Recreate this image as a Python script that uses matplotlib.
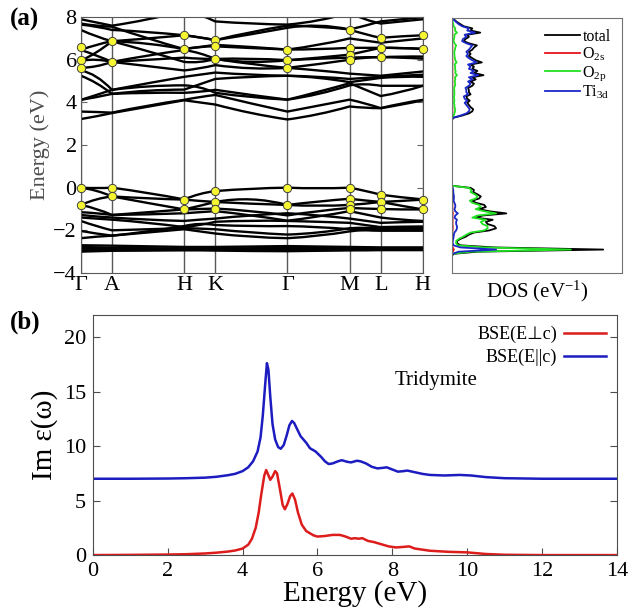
import numpy as np
import matplotlib
matplotlib.use("Agg")
import matplotlib.pyplot as plt
from matplotlib.path import Path
from matplotlib.patches import PathPatch

plt.rcParams["font.family"] = ["Liberation Serif", "DejaVu Sans"]
plt.rcParams["mathtext.fontset"] = "custom"
plt.rcParams["mathtext.rm"] = "Liberation Serif"
plt.rcParams["mathtext.it"] = "Liberation Serif:italic"

# ---------------------------------------------------------------
# (a) band structure: k-path, energies at k-points and segment midpoints
# ---------------------------------------------------------------
K_POS = [0, 31, 103, 134, 206, 268, 299, 341]
K_LABELS = ["Γ", "A", "H", "K", "Γ", "M", "L", "H"]

# order: Γ, mid, A, mid, H, mid, K, mid, Γ, mid, M, mid, L, mid, H
VALENCE_BANDS = [
    [0.00, -0.02, 0.00, -0.25, -0.55, -0.30, -0.16, -0.05, 0.00, -0.03, 0.00, -0.15, -0.33, -0.45, -0.55],
    [0.00, -0.15, -0.41, -0.50, -0.56, -0.62, -0.67, -0.75, -0.81, -0.65, -0.52, -0.60, -0.67, -0.62, -0.56],
    [-0.81, -0.55, -0.41, -0.72, -1.02, -0.85, -0.67, -0.55, -0.81, -0.85, -0.81, -0.75, -0.67, -0.85, -1.02],
    [-0.81, -1.00, -1.28, -1.15, -1.02, -1.00, -0.98, -1.10, -1.30, -1.10, -0.95, -0.98, -1.00, -1.02, -1.02],
    [-1.15, -1.20, -1.28, -1.25, -1.20, -1.15, -1.10, -1.30, -1.55, -1.35, -1.10, -1.25, -1.40, -1.50, -1.56],
    [-1.28, -1.35, -1.40, -1.50, -1.56, -1.50, -1.45, -1.30, -1.20, -1.30, -1.45, -1.55, -1.65, -1.62, -1.60],
    [-1.40, -1.45, -1.50, -1.65, -1.85, -1.75, -1.60, -1.55, -1.56, -1.60, -1.65, -1.75, -1.85, -1.83, -1.82],
    [-1.56, -1.80, -2.00, -1.95, -1.90, -1.92, -1.95, -2.10, -2.20, -2.10, -1.90, -1.88, -1.90, -1.90, -1.90],
    [-2.03, -2.15, -2.25, -2.10, -1.95, -2.05, -2.15, -2.30, -2.37, -2.25, -2.05, -1.98, -1.95, -1.95, -1.95],
    [-2.37, -2.30, -2.25, -2.05, -1.80, -1.70, -1.75, -1.80, -1.80, -1.85, -1.95, -2.00, -2.02, -2.02, -2.02],
    [-2.70, -2.71, -2.72, -2.75, -2.78, -2.78, -2.78, -2.76, -2.74, -2.76, -2.78, -2.79, -2.80, -2.80, -2.80],
    [-2.78, -2.80, -2.82, -2.84, -2.85, -2.85, -2.85, -2.84, -2.82, -2.83, -2.85, -2.86, -2.86, -2.86, -2.86],
    [-2.86, -2.87, -2.88, -2.88, -2.88, -2.89, -2.90, -2.90, -2.90, -2.89, -2.88, -2.88, -2.88, -2.88, -2.88],
    [-2.94, -2.93, -2.93, -2.92, -2.91, -2.91, -2.92, -2.93, -2.95, -2.93, -2.92, -2.91, -2.91, -2.91, -2.91],
    [-3.00, -2.98, -2.96, -2.95, -2.94, -2.94, -2.95, -2.97, -2.98, -2.96, -2.94, -2.94, -2.93, -2.93, -2.93],
]
CONDUCTION_BANDS = [
    [3.22, 3.35, 3.50, 3.80, 4.10, 4.00, 3.90, 3.50, 3.20, 3.45, 3.81, 3.75, 3.73, 3.90, 4.10],
    [3.57, 3.55, 3.52, 3.85, 4.12, 4.25, 4.35, 3.95, 3.57, 3.85, 4.13, 3.95, 3.73, 3.95, 4.12],
    [4.12, 4.25, 4.40, 4.45, 4.45, 4.50, 4.59, 4.35, 4.13, 4.50, 4.90, 4.60, 4.30, 4.50, 4.78],
    [4.12, 4.35, 4.59, 4.75, 4.80, 4.70, 4.45, 4.25, 4.13, 4.40, 4.80, 4.85, 4.78, 4.78, 4.78],
    [5.25, 4.90, 4.40, 4.55, 4.60, 4.85, 5.10, 5.20, 5.25, 5.15, 4.95, 5.05, 5.15, 5.20, 5.20],
    [5.50, 5.20, 4.59, 4.90, 5.20, 5.30, 5.40, 5.30, 5.25, 5.20, 5.10, 5.15, 5.20, 5.25, 5.30],
    [5.62, 5.70, 5.90, 5.70, 5.50, 5.60, 5.75, 5.60, 5.62, 5.50, 5.35, 5.30, 5.25, 5.35, 5.45],
    [5.96, 6.00, 5.90, 6.00, 6.10, 6.05, 6.04, 6.05, 5.98, 6.05, 6.10, 6.12, 6.12, 6.15, 6.15],
    [5.96, 6.35, 6.87, 6.75, 6.50, 6.60, 6.63, 6.55, 6.48, 6.50, 6.56, 6.56, 6.56, 6.55, 6.51],
    [6.46, 6.20, 5.90, 6.20, 6.46, 6.30, 6.04, 5.90, 5.98, 6.10, 6.24, 6.40, 6.56, 6.55, 6.51],
    [6.46, 6.70, 6.87, 7.00, 7.15, 7.05, 6.92, 7.30, 7.60, 7.55, 7.42, 7.20, 7.03, 7.10, 7.15],
    [7.40, 7.10, 6.87, 6.40, 5.90, 5.90, 6.04, 5.80, 5.62, 5.80, 6.00, 6.10, 6.12, 6.10, 6.05],
    [7.65, 7.55, 7.40, 7.30, 7.15, 7.05, 6.92, 7.20, 7.50, 7.60, 7.42, 7.60, 7.80, 7.90, 8.00],
    [7.90, 7.75, 7.60, 7.90, 8.30, 8.10, 7.80, 7.70, 7.65, 7.85, 8.20, 7.90, 7.70, 7.80, 7.90],
    [7.70, 7.60, 7.55, 7.00, 6.50, 6.60, 6.70, 6.60, 6.48, 6.70, 7.00, 6.90, 6.80, 6.90, 7.00],
]

# yellow markers: energies at each k-point
MARK_E = [
    [6.6, 6.0, 5.62, 0.0, -0.81],
    [6.87, 5.9, 0.0, -0.41],
    [7.15, 6.5, -0.56, -1.02],
    [6.92, 6.63, 6.04, -0.16, -0.67, -0.98],
    [6.48, 5.98, 5.62, 0.0, -0.81],
    [7.42, 6.56, 6.24, 6.0, 0.0, -0.52, -0.81, -1.02],
    [7.03, 6.56, 6.12, -0.33, -0.67, -1.0],
    [7.15, 6.51, -0.56, -1.02],
]

# ---------------------------------------------------------------
# (a) DOS
# ---------------------------------------------------------------
E_VAL = np.round(np.arange(-3.2, 0.21, 0.1), 1)
DOS_TOT_VAL = [0.0, 0.1, 1.5, 8.9, 2.5, 0.5, 0.3, 0.3, 0.5, 0.8, 1.0, 1.3, 2.2, 2.6, 2.5, 2.1, 2.0, 2.4,
               1.4, 1.8, 3.2, 2.2, 1.6, 2.0, 1.9, 1.4, 1.2, 1.6, 1.7, 1.5, 1.25, 1.3, 1.1, 0.0, 0.0]
DOS_O2S_VAL = [0.0, 0.01, 0.05, 0.12, 0.05, 0.02, 0.01, 0.01, 0.01, 0.02, 0.02, 0.03, 0.04, 0.05, 0.05,
               0.04, 0.04, 0.05, 0.03, 0.04, 0.06, 0.04, 0.03, 0.03, 0.03, 0.03, 0.02, 0.03, 0.03, 0.02,
               0.02, 0.02, 0.01, 0.0, 0.0]
DOS_O2P_VAL = [0.0, 0.05, 1.1, 7.0, 1.9, 0.35, 0.25, 0.25, 0.4, 0.65, 0.85, 1.1, 1.9, 2.1, 2.1, 1.8, 1.7,
               2.0, 1.2, 1.5, 2.6, 1.9, 1.4, 1.7, 1.6, 1.2, 1.05, 1.4, 1.5, 1.35, 1.1, 1.15, 1.0, 0.0, 0.0]
DOS_TI3D_VAL = [0.0, 0.05, 0.4, 2.6, 0.5, 0.1, 0.05, 0.05, 0.08, 0.1, 0.12, 0.15, 0.25, 0.3, 0.3, 0.25,
                0.25, 0.3, 0.15, 0.2, 0.35, 0.2, 0.15, 0.2, 0.2, 0.15, 0.1, 0.12, 0.12, 0.1, 0.08, 0.08,
                0.05, 0.0, 0.0]

E_CON = np.round(np.arange(3.2, 8.01, 0.1), 1)
DOS_TOT_CON = [0.0, 0.1, 0.6, 1.0, 1.2, 1.25, 1.1, 1.0, 0.9, 1.05, 0.9, 0.85, 1.1, 1.0, 1.0, 0.95, 1.2,
               1.3, 1.1, 1.4, 1.2, 1.86, 1.3, 1.5, 1.2, 1.3, 1.1, 1.76, 1.4, 1.2, 1.0, 1.1, 1.0, 1.2, 1.3,
               1.47, 1.0, 0.7, 0.8, 1.0, 0.9, 1.67, 1.1, 1.2, 0.7, 0.5, 0.3, 0.15, 0.1]
DOS_O2S_CON = [0.0, 0.01, 0.02, 0.03, 0.03, 0.03, 0.03, 0.02, 0.02, 0.03, 0.02, 0.02, 0.03, 0.03, 0.03,
               0.02, 0.03, 0.03, 0.03, 0.03, 0.03, 0.04, 0.03, 0.03, 0.03, 0.03, 0.02, 0.04, 0.03, 0.03,
               0.02, 0.02, 0.02, 0.03, 0.03, 0.03, 0.02, 0.02, 0.02, 0.02, 0.02, 0.03, 0.02, 0.02, 0.02,
               0.01, 0.01, 0.01, 0.0]
DOS_O2P_CON = [0.0, 0.02, 0.1, 0.15, 0.18, 0.2, 0.15, 0.15, 0.12, 0.15, 0.13, 0.12, 0.15, 0.14, 0.14,
               0.13, 0.18, 0.2, 0.16, 0.2, 0.18, 0.3, 0.2, 0.22, 0.18, 0.2, 0.15, 0.28, 0.2, 0.18, 0.15,
               0.15, 0.14, 0.18, 0.2, 0.25, 0.15, 0.1, 0.12, 0.15, 0.14, 0.3, 0.18, 0.2, 0.1, 0.08, 0.05,
               0.03, 0.02]
DOS_TI3D_CON = [0.0, 0.08, 0.5, 0.85, 1.0, 1.05, 0.95, 0.85, 0.75, 0.9, 0.75, 0.7, 0.95, 0.85, 0.85, 0.8,
                1.0, 1.1, 0.95, 1.2, 1.0, 1.55, 1.1, 1.3, 1.0, 1.1, 0.95, 1.45, 1.2, 1.0, 0.85, 0.95, 0.85,
                1.0, 1.1, 1.2, 0.85, 0.6, 0.65, 0.85, 0.75, 1.35, 0.9, 1.0, 0.6, 0.4, 0.25, 0.12, 0.08]

# ---------------------------------------------------------------
# (b) BSE spectra
# ---------------------------------------------------------------
E_PAR = [0.0, 1.0, 2.0, 2.5, 3.0, 3.3, 3.6, 3.8, 4.0, 4.15, 4.28, 4.4, 4.48, 4.54, 4.6, 4.65, 4.69,
         4.74, 4.8, 4.87, 4.95, 5.02, 5.1, 5.18, 5.25, 5.32, 5.38, 5.45, 5.55, 5.7, 5.8, 5.95, 6.1,
         6.2, 6.3, 6.4, 6.55, 6.65, 6.8, 6.9, 7.05, 7.15, 7.3, 7.45, 7.6, 7.75, 7.85, 8.0, 8.15, 8.3,
         8.4, 8.6, 8.8, 9.0, 9.4, 9.8, 10.1, 10.5, 11.0, 12.0, 14.0]
IM_PAR = [7.0, 7.0, 7.02, 7.05, 7.1, 7.18, 7.32, 7.45, 7.7, 8.05, 8.6, 9.5, 10.8, 12.8, 15.5, 17.6,
          17.0, 14.5, 12.0, 10.6, 9.9, 9.75, 10.1, 11.0, 11.9, 12.3, 12.1, 11.6, 10.9, 10.3, 9.8, 9.5,
          9.0, 8.6, 8.35, 8.4, 8.6, 8.7, 8.55, 8.5, 8.65, 8.6, 8.4, 8.1, 7.95, 8.0, 8.05, 7.85, 7.65,
          7.7, 7.75, 7.6, 7.45, 7.35, 7.3, 7.35, 7.3, 7.15, 7.05, 7.0, 7.0]
E_PERP = [0.0, 1.0, 2.0, 2.5, 3.0, 3.3, 3.6, 3.8, 4.0, 4.15, 4.25, 4.35, 4.43, 4.5, 4.58, 4.63, 4.68,
          4.74, 4.8, 4.87, 4.92, 5.0, 5.07, 5.13, 5.2, 5.27, 5.33, 5.4, 5.48, 5.58, 5.7, 5.9, 6.0, 6.2,
          6.4, 6.6, 6.75, 6.9, 7.0, 7.1, 7.2, 7.35, 7.5, 7.7, 7.9, 8.1, 8.3, 8.45, 8.6, 9.0, 9.5, 10.0,
          10.5, 11.0, 12.0, 14.0]
IM_PERP = [0.0, 0.02, 0.05, 0.08, 0.15, 0.22, 0.32, 0.42, 0.6, 0.95, 1.5, 2.5, 3.9, 5.6, 7.3, 7.8, 7.4,
           6.9, 7.2, 7.7, 7.5, 6.0, 4.6, 4.2, 4.7, 5.4, 5.65, 5.1, 3.9, 2.8, 2.2, 1.8, 1.7, 1.75, 1.85,
           1.85, 1.7, 1.5, 1.55, 1.5, 1.55, 1.3, 1.2, 1.0, 0.8, 0.7, 0.75, 0.8, 0.6, 0.4, 0.3, 0.25,
           0.1, 0.03, 0.0, 0.0]


def band_path(kx, energies):
    """Quadratic Bezier per k-segment passing through the midpoint value."""
    k = np.asarray(kx, dtype=float)
    e = np.asarray(energies, dtype=float)
    verts = [(k[0], e[0])]
    codes = [Path.MOVETO]
    for i in range(len(k) - 1):
        e0, em, e1 = e[2 * i], e[2 * i + 1], e[2 * i + 2]
        ctrl = 2 * em - 0.5 * (e0 + e1)
        verts += [(0.5 * (k[i] + k[i + 1]), ctrl), (k[i + 1], e1)]
        codes += [Path.CURVE3, Path.CURVE3]
    return Path(verts, codes)


fig = plt.figure(figsize=(6.32, 6.12), dpi=100)

# ---- band structure ----
ax = fig.add_axes([0.128, 0.554, 0.541, 0.418])
for kp in K_POS:
    ax.axvline(kp, color="0.35", lw=1.0, zorder=1)
for band in VALENCE_BANDS + CONDUCTION_BANDS:
    ax.add_patch(PathPatch(band_path(K_POS, band), fill=False, edgecolor="black",
                           lw=1.7, zorder=2, capstyle="round", joinstyle="round"))
for kp, es in zip(K_POS, MARK_E):
    ax.plot([kp] * len(es), es, "o", ms=6, mfc="#f5f532", mec="0.25", mew=0.7,
            zorder=4, clip_on=False)
ax.set_xlim(K_POS[0], K_POS[-1])
ax.set_ylim(-4, 8)
ax.set_xticks(K_POS)
ax.set_xticklabels(K_LABELS, fontsize=16)
ax.set_yticks(range(-4, 9, 2))
ax.tick_params(axis="x", length=0, pad=2)
ax.tick_params(axis="y", direction="in", length=4, right=True, labelsize=16, pad=3,
               color="0.4")
ax.set_ylabel("Energy (eV)", fontsize=16, color="0.3", labelpad=2)
for sp in ax.spines.values():
    sp.set_color("0.35")

# ---- DOS ----
ax2 = fig.add_axes([0.715, 0.554, 0.269, 0.417])
ax2.plot(DOS_TOT_VAL, E_VAL, color="black", lw=1.3, label="total")
ax2.plot(DOS_TOT_CON, E_CON, color="black", lw=1.3)
ax2.plot(DOS_O2S_VAL, E_VAL, color="#e8141a", lw=1.3, label=r"O$_{\mathrm{2s}}$")
ax2.plot(DOS_O2S_CON, E_CON, color="#e8141a", lw=1.3)
ax2.plot(DOS_O2P_VAL, E_VAL, color="#22e022", lw=1.3, label=r"O$_{\mathrm{2p}}$")
ax2.plot(DOS_O2P_CON, E_CON, color="#22e022", lw=1.3)
ax2.plot(DOS_TI3D_VAL, E_VAL, color="#1a28c8", lw=1.3, label=r"Ti$_{\mathrm{3d}}$")
ax2.plot(DOS_TI3D_CON, E_CON, color="#1a28c8", lw=1.3)
ax2.set_xlim(0, 10)
ax2.set_ylim(-4, 8)
ax2.set_xticks([])
ax2.set_yticks([])
for sp in ax2.spines.values():
    sp.set_color("0.45")
ax2.set_xlabel(r"DOS (eV$^{-1}$)", fontsize=15, labelpad=4)
ax2.legend(loc="upper right", frameon=False, fontsize=11.5, handlelength=2.2,
           handletextpad=0.15, labelspacing=0.05, borderaxespad=0.3)

# ---- BSE ----
ax3 = fig.add_axes([0.147, 0.093, 0.829, 0.392])
ax3.plot(E_PERP, IM_PERP, color="#dd1c1c", lw=1.8, label="BSE(E⊥c)")
ax3.plot(E_PAR, IM_PAR, color="#1c1cc0", lw=1.8, label="BSE(E||c)")
ax3.set_xlim(0, 14)
ax3.set_ylim(0, 22)
ax3.set_xticks(range(0, 15, 2))
ax3.set_yticks(range(0, 21, 5))
ax3.tick_params(direction="in", length=5, right=True, labelsize=16, pad=5, color="0.3")
ax3.set_xlabel("Energy (eV)", fontsize=21, labelpad=-1)
ax3.set_ylabel("Im ε(ω)", fontsize=21, labelpad=4)
for sp in ax3.spines.values():
    sp.set_color("0.3")
ax3.text(8.05, 16.0, "Tridymite", fontsize=15, ha="left", va="center")
ax3.legend(loc="upper right", frameon=False, fontsize=13, markerfirst=False,
           handlelength=2.3, handletextpad=0.4, labelspacing=0.3, borderaxespad=0.2)

fig.text(0.015, 0.968, "(a)", fontsize=18, fontweight="bold", va="center")
fig.text(0.015, 0.474, "(b)", fontsize=18, fontweight="bold", va="center")

fig.savefig("out.png", dpi=100)
